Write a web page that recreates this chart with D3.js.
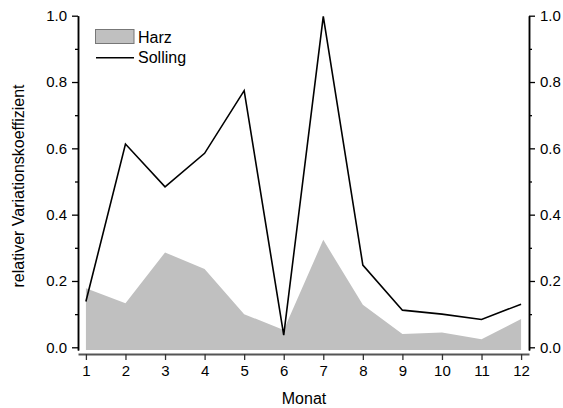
<!DOCTYPE html>
<html><head><meta charset="utf-8">
<script src="https://cdn.jsdelivr.net/npm/d3@7"></script>
<style>body{margin:0;background:#fff}text{font-family:Arial,"Liberation Sans",sans-serif;fill:#000}</style>
</head><body>
<svg id="c" width="563" height="408"></svg>
<script>
const months = [1,2,3,4,5,6,7,8,9,10,11,12];
const harz = [0.178,0.133,0.286,0.236,0.100,0.052,0.324,0.128,0.040,0.045,0.024,0.085];
const solling = [0.138,0.613,0.484,0.585,0.774,0.037,0.998,0.248,0.112,0.100,0.084,0.130];
const yTicks = [0,0.2,0.4,0.6,0.8,1.0];
const yMinor = [0.1,0.3,0.5,0.7,0.9];
const seriesNames = ["Harz","Solling"];

const svg = d3.select("#c");
const x = d3.scaleLinear().domain([0.8,12.2]).range([78,529]);
const y = d3.scaleLinear().domain([0,1]).range([347.3,15.7]);
const base = -0.008;
const axisBottomY = 354;

// area
svg.append("path")
  .datum(months.map((m,i)=>({m,v:harz[i]})))
  .attr("fill","#c0c0c0")
  .attr("d", d3.area().x(d=>x(d.m)).y0(y(base)).y1(d=>y(d.v)));

// line
svg.append("path")
  .datum(months.map((m,i)=>({m,v:solling[i]})))
  .attr("fill","none").attr("stroke","#000").attr("stroke-width",1.6)
  .attr("stroke-linejoin","miter")
  .attr("d", d3.line().x(d=>x(d.m)).y(d=>y(d.v)));

const yAxisScale = y.copy().domain([base,1]).range([y(base),y(1)]);
// left axis
const gL = svg.append("g").attr("transform","translate(78,0)")
  .call(d3.axisLeft(yAxisScale).tickValues(yTicks).tickFormat(d3.format(".1f")).tickSize(6).tickPadding(5).tickSizeOuter(0));
const gLm = svg.append("g").attr("transform","translate(78,0)")
  .call(d3.axisLeft(yAxisScale).tickValues(yMinor).tickFormat("").tickSize(3).tickSizeOuter(0));
// right axis
const gR = svg.append("g").attr("transform","translate(529,0)")
  .call(d3.axisRight(yAxisScale).tickValues(yTicks).tickFormat(d3.format(".1f")).tickSize(6).tickPadding(5).tickSizeOuter(0));
const gRm = svg.append("g").attr("transform","translate(529,0)")
  .call(d3.axisRight(yAxisScale).tickValues(yMinor).tickFormat("").tickSize(3).tickSizeOuter(0));
// bottom axis
const gB = svg.append("g").attr("transform",`translate(0,${axisBottomY})`)
  .call(d3.axisBottom(x).tickValues(months).tickFormat(d3.format("d")).tickSize(6).tickPadding(5).tickSizeOuter(0));

[gL,gLm,gR,gRm].forEach(g=>{
  g.select(".domain").attr("stroke","#000").attr("stroke-width",1.5);
  g.selectAll(".tick line").attr("stroke","#000").attr("stroke-width",1.3);
});
gB.select(".domain").attr("stroke","#555").attr("stroke-width",2.2);
gB.selectAll(".tick line").attr("stroke","#333").attr("stroke-width",1.3);
svg.selectAll(".tick text").attr("font-size",15).attr("font-family","Arial, 'Liberation Sans', sans-serif").attr("fill","#000");

// titles
svg.append("text").attr("x",304).attr("y",404).attr("text-anchor","middle").attr("font-size",16).text("Monat");
svg.append("text").attr("transform","translate(24,186) rotate(-90)").attr("text-anchor","middle").attr("font-size",16).text("relativer Variationskoeffizient");

// legend
const lg = svg.append("g");
lg.append("rect").attr("x",95.5).attr("y",29.5).attr("width",38.5).attr("height",14).attr("fill","#c0c0c0").attr("stroke","#777").attr("stroke-width",1);
lg.append("text").attr("x",138).attr("y",43).attr("font-size",16).text(seriesNames[0]);
lg.append("line").attr("x1",96).attr("x2",134).attr("y1",57.7).attr("y2",57.7).attr("stroke","#000").attr("stroke-width",1.6);
lg.append("text").attr("x",138).attr("y",63).attr("font-size",16).text(seriesNames[1]);
</script>
</body></html>
